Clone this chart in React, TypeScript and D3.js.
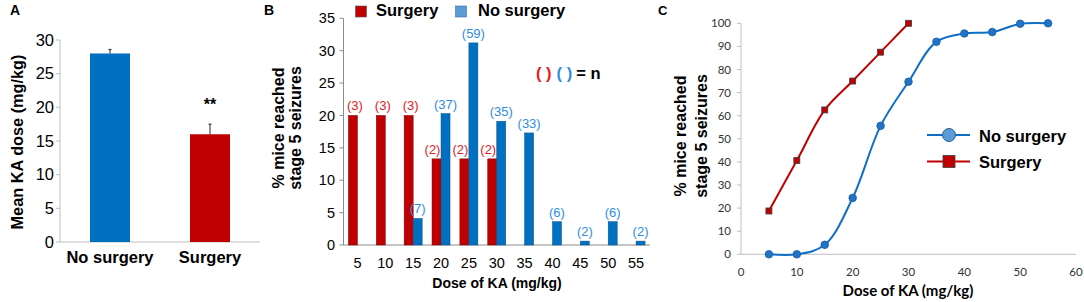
import React from "react";
import * as d3 from "d3";

// Panel A
const groupsA = ["No surgery", "Surgery"];
const meanA = [28.0, 16.0];
const errA = [0.6, 1.5];
const ticksA = [0, 5, 10, 15, 20, 25, 30];

// Panel B
const dosesB = ["5", "10", "15", "20", "25", "30", "35", "40", "45", "50", "55"];
const surgeryPct = [20, 20, 20, 13.3, 13.3, 13.3, 0, 0, 0, 0, 0];
const noSurgeryPct = [0, 0, 4.1, 20.3, 31.2, 19.1, 17.3, 3.6, 0.6, 3.6, 0.6];
const surgeryN = ["(3)", "(3)", "(3)", "(2)", "(2)", "(2)", "", "", "", "", ""];
const noSurgeryN = ["", "", "(7)", "(37)", "(59)", "(35)", "(33)", "(6)", "(2)", "(6)", "(2)"];
const ticksB = [0, 5, 10, 15, 20, 25, 30, 35];

// Panel C
const dosesC = [5, 10, 15, 20, 25, 30, 35, 40, 45, 50, 55];
const noSurgeryCum = [0, 0, 4.1, 24.4, 55.6, 74.7, 92.0, 95.6, 96.2, 99.8, 100];
const surgeryDosesC = [5, 10, 15, 20, 25, 30];
const surgeryCum = [18.75, 40.6, 62.5, 75, 87.5, 100];
const ticksCx = [0, 10, 20, 30, 40, 50, 60];
const ticksCy = [0, 10, 20, 30, 40, 50, 60, 70, 80, 90, 100];

const ARIAL = "'Liberation Sans', Arial, sans-serif";
const CAL = "Lato, 'Open Sans', sans-serif";
const RED = "#c00000";
const BLUE = "#0070c0";
const RED_TXT = "#e0201e";
const BLUE_TXT = "#2f8de0";
const AXIS = "#bfbfbf";

export default function App() {
  // ---------- Panel A ----------
  const yA = d3.scaleLinear().domain([0, 30]).range([242, 40]);
  const xA = d3.scaleBand<string>().domain(groupsA).range([60, 260]).paddingInner(0.6).paddingOuter(0.3);
  const colorsA = [BLUE, RED];

  // ---------- Panel B ----------
  const yB = d3.scaleLinear().domain([0, 35]).range([245, 18.3]);
  const xB = d3.scaleBand<string>().domain(dosesB).range([343.5, 650]);
  const barW = 9;

  // ---------- Panel C ----------
  const xC = d3.scaleLinear().domain([0, 60]).range([741, 1076]);
  const yC = d3.scaleLinear().domain([0, 100]).range([254.3, 23.3]);
  const lineC = d3
    .line<[number, number]>()
    .x((d) => xC(d[0]))
    .y((d) => yC(d[1]))
    .curve(d3.curveCatmullRom.alpha(0.5));
  const blueData: [number, number][] = dosesC.map((d, i) => [d, noSurgeryCum[i]]);
  const redData: [number, number][] = surgeryDosesC.map((d, i) => [d, surgeryCum[i]]);

  return (
    <svg
      width={1084}
      height={302}
      style={{ position: "absolute", left: 0, top: 0, background: "#fff" }}
    >
      <rect width={1084} height={302} fill="#fff" />

      {/* ================= Panel A ================= */}
      <text x={10} y={15} fontFamily={ARIAL} fontWeight="bold" fontSize={14}>A</text>
      <line x1={60} x2={60} y1={yA(30)} y2={yA(0)} stroke={AXIS} />
      <line x1={60} x2={260} y1={yA(0)} y2={yA(0)} stroke={AXIS} />
      {ticksA.map((t) => (
        <g key={t}>
          <line x1={56} x2={60} y1={yA(t)} y2={yA(t)} stroke={AXIS} />
          <text x={54} y={yA(t)} dy="0.35em" textAnchor="end" fontFamily={ARIAL} fontSize={16.5}>{t}</text>
        </g>
      ))}
      {groupsA.map((g, i) => {
        const x = xA(g)!;
        const w = xA.bandwidth();
        const cx = x + w / 2;
        return (
          <g key={g}>
            <rect x={x} y={yA(meanA[i])} width={w} height={yA(0) - yA(meanA[i])} fill={colorsA[i]} />
            <line x1={cx} x2={cx} y1={yA(meanA[i])} y2={yA(meanA[i] + errA[i])} stroke="#222" strokeWidth={1} />
            <line x1={cx - 1.5} x2={cx + 1.5} y1={yA(meanA[i] + errA[i])} y2={yA(meanA[i] + errA[i])} stroke="#222" strokeWidth={1} />
            <text x={cx} y={263} textAnchor="middle" fontFamily={ARIAL} fontWeight="bold" fontSize={16.5}>{g}</text>
          </g>
        );
      })}
      <text x={xA("Surgery")! + xA.bandwidth() / 2} y={110} textAnchor="middle" fontFamily={ARIAL} fontWeight="bold" fontSize={16}>**</text>
      <text
        transform={`translate(23,142) rotate(-90)`}
        textAnchor="middle"
        fontFamily={ARIAL}
        fontWeight="bold"
        fontSize={16.3}
      >
        Mean KA dose (mg/kg)
      </text>

      {/* ================= Panel B ================= */}
      <text x={264} y={15} fontFamily={ARIAL} fontWeight="bold" fontSize={14}>B</text>
      <line x1={343.5} x2={343.5} y1={yB(35)} y2={yB(0)} stroke="#8c8c8c" />
      <line x1={343.5} x2={650} y1={yB(0)} y2={yB(0)} stroke="#8c8c8c" />
      {ticksB.map((t) => (
        <g key={t}>
          <line x1={339.5} x2={343.5} y1={yB(t)} y2={yB(t)} stroke="#8c8c8c" />
          <text x={335} y={yB(t)} dy="0.35em" textAnchor="end" fontFamily={ARIAL} fontSize={14.5}>{t}</text>
        </g>
      ))}
      {dosesB.map((d, i) => {
        const c = xB(d)! + xB.bandwidth() / 2;
        const shift = noSurgeryPct[i] > surgeryPct[i] * 0.5 && surgeryPct[i] > 0 ? -6 : 0;
        return (
          <g key={d}>
            {surgeryPct[i] > 0 && (
              <rect x={c - barW} y={yB(surgeryPct[i])} width={barW} height={yB(0) - yB(surgeryPct[i])} fill={RED} stroke="#7a0000" strokeWidth={0.5} />
            )}
            {noSurgeryPct[i] > 0 && (
              <rect x={c} y={yB(noSurgeryPct[i])} width={barW} height={yB(0) - yB(noSurgeryPct[i])} fill={BLUE} stroke="#0a4f8a" strokeWidth={0.5} />
            )}
            {surgeryN[i] && (
              <text x={c - barW / 2 + 2 + shift} y={yB(surgeryPct[i]) - 5} textAnchor="middle" fontFamily={ARIAL} fontSize={13} fill={RED_TXT}>{surgeryN[i]}</text>
            )}
            {noSurgeryN[i] && (
              <text x={c + barW / 2} y={yB(noSurgeryPct[i]) - 5} textAnchor="middle" fontFamily={ARIAL} fontSize={13} fill={BLUE_TXT}>{noSurgeryN[i]}</text>
            )}
            <text x={c} y={268} textAnchor="middle" fontFamily={ARIAL} fontSize={14.5}>{d}</text>
          </g>
        );
      })}
      <text x={497} y={288} textAnchor="middle" fontFamily={ARIAL} fontWeight="bold" fontSize={14}>Dose of KA (mg/kg)</text>
      <text transform="translate(284,128) rotate(-90)" textAnchor="middle" fontFamily={ARIAL} fontWeight="bold" fontSize={16}>% mice reached</text>
      <text transform="translate(301,128) rotate(-90)" textAnchor="middle" fontFamily={ARIAL} fontWeight="bold" fontSize={16}>stage 5 seizures</text>
      {/* legend B */}
      <rect x={355.5} y={6} width={11} height={11} fill={RED} stroke="#555" strokeWidth={0.6} />
      <text x={376} y={16} fontFamily={ARIAL} fontWeight="bold" fontSize={16.5}>Surgery</text>
      <rect x={455.5} y={6} width={11} height={11} fill="#5b9bd5" stroke="#3a6fa8" strokeWidth={0.6} />
      <text x={478} y={16} fontFamily={ARIAL} fontWeight="bold" fontSize={16.5}>No surgery</text>
      <text x={536} y={79} fontFamily={ARIAL} fontWeight="bold" fontSize={16.5} xmlSpace="preserve">
        <tspan fill={RED_TXT}>( )</tspan>
        <tspan fill={BLUE_TXT} dx={5}>( )</tspan>
        <tspan fill="#000" dx={4}>= n</tspan>
      </text>

      {/* ================= Panel C ================= */}
      <text x={658} y={15} fontFamily={ARIAL} fontWeight="bold" fontSize={13}>C</text>
      <line x1={741} x2={741} y1={yC(100)} y2={yC(0)} stroke={AXIS} />
      <line x1={741} x2={1076} y1={yC(0)} y2={yC(0)} stroke={AXIS} />
      {ticksCy.map((t) => (
        <g key={t}>
          <line x1={737} x2={741} y1={yC(t)} y2={yC(t)} stroke={AXIS} />
          <text x={731} y={yC(t)} dy="0.35em" textAnchor="end" fontFamily={CAL} fontSize={11.5} fill="#333">{t}</text>
        </g>
      ))}
      {ticksCx.map((t) => (
        <text key={t} x={xC(t)} y={275.5} textAnchor="middle" fontFamily={CAL} fontSize={11.5} fill="#333">{t}</text>
      ))}
      <text x={908} y={296} textAnchor="middle" fontFamily={CAL} fontWeight="bold" fontSize={15}>Dose of KA (mg/kg)</text>
      <text transform="translate(686,136) rotate(-90)" textAnchor="middle" fontFamily={ARIAL} fontWeight="bold" fontSize={16}>% mice reached</text>
      <text transform="translate(707,136) rotate(-90)" textAnchor="middle" fontFamily={ARIAL} fontWeight="bold" fontSize={16}>stage 5 seizures</text>

      <path d={lineC(redData)!} fill="none" stroke={RED} strokeWidth={2} />
      <path d={lineC(blueData)!} fill="none" stroke="#0f6fc6" strokeWidth={2} />
      {redData.map((d, i) => (
        <rect key={i} x={xC(d[0]) - 3} y={yC(d[1]) - 3} width={6} height={6} fill={RED} stroke="#404040" strokeWidth={0.8} />
      ))}
      {blueData.map((d, i) => (
        <circle key={i} cx={xC(d[0])} cy={yC(d[1])} r={3.8} fill="#1f74c8" stroke="#1a5a9c" strokeWidth={0.8} />
      ))}
      {/* legend C */}
      <line x1={927} x2={970} y1={135} y2={135} stroke="#0f6fc6" strokeWidth={2} />
      <circle cx={949} cy={135} r={6.5} fill="#5b9bd5" stroke="#2a5f96" strokeWidth={1} />
      <text x={979} y={141.5} fontFamily={ARIAL} fontWeight="bold" fontSize={16.5}>No surgery</text>
      <line x1={927} x2={970} y1={161.5} y2={161.5} stroke={RED} strokeWidth={2} />
      <rect x={943} y={155.5} width={12} height={12} fill={RED} stroke="#404040" strokeWidth={0.8} />
      <text x={979} y={167.5} fontFamily={ARIAL} fontWeight="bold" fontSize={16.5}>Surgery</text>
    </svg>
  );
}
